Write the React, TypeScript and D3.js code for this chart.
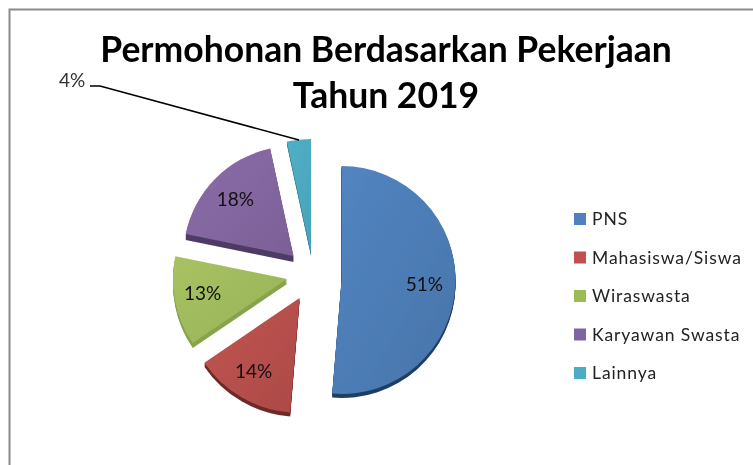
import React from "react";
import * as d3 from "d3";

const titleLines = ["Permohonan Berdasarkan Pekerjaan", "Tahun 2019"];
const categories = ["PNS", "Mahasiswa/Siswa", "Wiraswasta", "Karyawan Swasta", "Lainnya"];
const values = [51.3, 14.2, 12.7, 18.4, 3.4];
const percentLabels = ["51%", "14%", "13%", "18%", "4%"];
const topLight = ["#5285c2", "#c25551", "#a8c263", "#8a6ca8", "#4fb0c8"];
const topDark = ["#4874a9", "#ab4a47", "#97b356", "#7d6097", "#49a3b9"];
const sideColors = ["#1f3f66", "#6f2a28", "#8aa34d", "#4e3c66", "#2f7f94"];
const legendColors = ["#4f81bd", "#c0504d", "#9bbb59", "#8064a2", "#4bacc6"];

const W = 753;
const H = 465;
const FONT = "Lato, 'Open Sans', sans-serif";
const cx = 313.5;
const cy = 279;
const radii = [114, 115, 114, 110, 114];
const offsets: [number, number][] = [[28, 1], [-14, 19], [-26.5, 0], [-20, -23], [-2.5, -26]];
const depths = [4, 4, 5, 6, 3];
const labelNudge: [number, number][] = [[0, 1], [-4, 2], [-3, -2], [1, 2]];

export default function App() {
  const slices = d3.pie<number>().sort(null)(values);
  const arcFor = (i: number) => d3.arc<d3.PieArcDatum<number>>().innerRadius(0).outerRadius(radii[i]);
  const dir = (d: d3.PieArcDatum<number>) => {
    const m = (d.startAngle + d.endAngle) / 2;
    return [Math.sin(m), -Math.cos(m)];
  };
  const legendY = d3.scalePoint<string>().domain(categories).range([219, 373]);

  return (
    <svg width={W} height={H} viewBox={`0 0 ${W} ${H}`} style={{ position: "absolute", left: 0, top: 0, background: "#fff" }}>
      <defs>
        {slices.map((_, i) => (
          <linearGradient key={i} id={`g${i}`} x1="0" y1="0" x2="1" y2="1">
            <stop offset="0%" stopColor={topLight[i]} />
            <stop offset="100%" stopColor={topDark[i]} />
          </linearGradient>
        ))}
        <filter id="soft" x="-5%" y="-5%" width="110%" height="110%">
          <feGaussianBlur stdDeviation="0.45" />
        </filter>
      </defs>
      <g filter="url(#soft)">
        <path d={`M${W + 5},9.5 H9.5 V${H + 5}`} fill="none" stroke="#8a8a8a" strokeWidth={2} />
        <g fontFamily={FONT} fontWeight={700} fontSize={35.5} fill="#000" textAnchor="middle">
          {titleLines.map((t, i) => (
            <text key={t} x={386} y={62 + i * 46}>{t}</text>
          ))}
        </g>
        {slices.map((d, i) => (
          <g key={i} transform={`translate(${cx + offsets[i][0]},${cy + offsets[i][1]})`}>
            {d3.range(depths[i], 0, -1).map((k) => (
              <path key={k} d={arcFor(i)(d) ?? ""} transform={`translate(0,${k})`} fill={sideColors[i]} />
            ))}
            <path d={arcFor(i)(d) ?? ""} fill={`url(#g${i})`} />
          </g>
        ))}
        <g fontFamily={FONT} fontSize={19} fill="#111" textAnchor="middle">
          {slices.slice(0, 4).map((d, i) => {
            const [dx, dy] = dir(d);
            const r = 83;
            return (
              <text key={i} x={cx + offsets[i][0] + dx * r + labelNudge[i][0]} y={cy + offsets[i][1] + dy * r + labelNudge[i][1] + 6.5}>
                {percentLabels[i]}
              </text>
            );
          })}
          <text x={72} y={87} fill="#333">{percentLabels[4]}</text>
        </g>
        <polyline points="90,86 100,86 299,140" fill="none" stroke="#000" strokeWidth={1.6} />
        {categories.map((c, i) => {
          const y = legendY(c) ?? 0;
          return (
            <g key={c}>
              <rect x={574} y={y - 6} width={12} height={12} fill={legendColors[i]} />
              <text x={592} y={y + 6} fontFamily={FONT} fontSize={17.5} letterSpacing={0.9} fill="#222">{c}</text>
            </g>
          );
        })}
      </g>
    </svg>
  );
}
